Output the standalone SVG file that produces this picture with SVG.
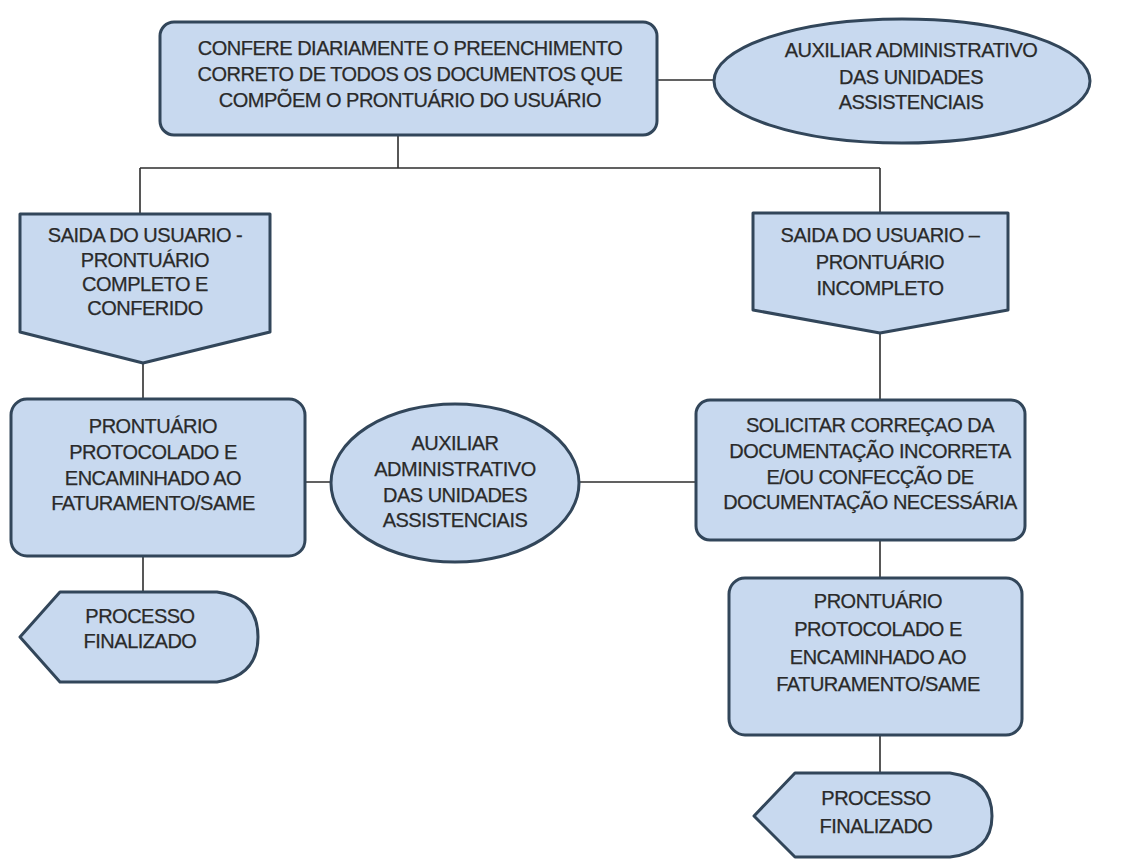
<svg xmlns="http://www.w3.org/2000/svg" width="1130" height="859" viewBox="0 0 1130 859">
  <style>
    .shape { fill: #c8d9ef; stroke: #32465a; stroke-width: 3; stroke-linejoin: round; }
    .wire { fill: none; stroke: #2e2e2e; stroke-width: 1.6; }
    text { font-family: "Liberation Sans", Arial, sans-serif; font-size: 20px; fill: #2a2a2a; stroke: #2a2a2a; stroke-width: 0.25; text-anchor: middle; letter-spacing: -0.5px; }
  </style>
  <rect width="1130" height="859" fill="#ffffff"/>

  <!-- connectors -->
  <g id="connectors">
    <path class="wire" d="M657 80 H715"/>
    <path class="wire" d="M398 135 V168 M140 168 H880 M140 168 V214 M880 168 V213"/>
    <path class="wire" d="M143 363 V398"/>
    <path class="wire" d="M880 333 V400"/>
    <path class="wire" d="M305 482 H331 M579 482 H696"/>
    <path class="wire" d="M143 556 V592"/>
    <path class="wire" d="M880 540 V578"/>
    <path class="wire" d="M880 735 V773"/>
  </g>

  <!-- daily check of the patient record -->
  <g id="confere">
    <rect class="shape" x="160" y="22" width="497" height="113" rx="14"/>
    <text x="410" y="55">CONFERE DIARIAMENTE O PREENCHIMENTO</text>
    <text x="410" y="81">CORRETO DE TODOS OS DOCUMENTOS QUE</text>
    <text x="410" y="107">COMPÕEM O PRONTUÁRIO DO USUÁRIO</text>
  </g>

  <!-- responsible role (top) -->
  <g id="auxiliar-topo">
    <ellipse class="shape" cx="902" cy="81" rx="188" ry="62"/>
    <text x="911" y="57">AUXILIAR ADMINISTRATIVO</text>
    <text x="911" y="84">DAS UNIDADES</text>
    <text x="911" y="109">ASSISTENCIAIS</text>
  </g>

  <!-- exit: complete record -->
  <g id="saida-completo">
    <path class="shape" d="M20 214 H270 V332 L143 363 L20 332 Z"/>
    <text x="145" y="242">SAIDA DO USUARIO -</text>
    <text x="145" y="267">PRONTUÁRIO</text>
    <text x="145" y="291">COMPLETO E</text>
    <text x="145" y="315">CONFERIDO</text>
  </g>

  <!-- exit: incomplete record -->
  <g id="saida-incompleto">
    <path class="shape" d="M753 213 H1008 V310 L880 333 L753 310 Z"/>
    <text x="880" y="242">SAIDA DO USUARIO –</text>
    <text x="880" y="269">PRONTUÁRIO</text>
    <text x="880" y="295">INCOMPLETO</text>
  </g>

  <!-- record filed and sent (left) -->
  <g id="protocolado-esq">
    <rect class="shape" x="11" y="399" width="294" height="157" rx="16"/>
    <text x="153" y="433">PRONTUÁRIO</text>
    <text x="153" y="459">PROTOCOLADO E</text>
    <text x="153" y="485">ENCAMINHADO AO</text>
    <text x="153" y="510">FATURAMENTO/SAME</text>
  </g>

  <!-- responsible role (middle) -->
  <g id="auxiliar-meio">
    <ellipse class="shape" cx="455" cy="483" rx="124" ry="79"/>
    <text x="455" y="450">AUXILIAR</text>
    <text x="455" y="476">ADMINISTRATIVO</text>
    <text x="455" y="502">DAS UNIDADES</text>
    <text x="455" y="527">ASSISTENCIAIS</text>
  </g>

  <!-- request correction -->
  <g id="solicitar">
    <rect class="shape" x="696" y="400" width="329" height="140" rx="14"/>
    <text x="870" y="432">SOLICITAR CORREÇAO DA</text>
    <text x="870" y="458">DOCUMENTAÇÃO INCORRETA</text>
    <text x="870" y="484">E/OU CONFECÇÃO DE</text>
    <text x="870" y="509">DOCUMENTAÇÃO NECESSÁRIA</text>
  </g>

  <!-- record filed and sent (right) -->
  <g id="protocolado-dir">
    <rect class="shape" x="729" y="578" width="293" height="157" rx="16"/>
    <text x="878" y="608">PRONTUÁRIO</text>
    <text x="878" y="636">PROTOCOLADO E</text>
    <text x="878" y="664">ENCAMINHADO AO</text>
    <text x="878" y="691">FATURAMENTO/SAME</text>
  </g>

  <!-- end (left) -->
  <g id="fim-esq">
    <path class="shape" d="M60 592 H217 Q258 598 258 637 Q258 676 217 682 H60 L20 637 Z"/>
    <text x="140" y="623">PROCESSO</text>
    <text x="140" y="648">FINALIZADO</text>
  </g>

  <!-- end (right) -->
  <g id="fim-dir">
    <path class="shape" d="M795 773 H950 Q992 779 992 816 Q992 852 950 857 H795 L754 816 Z"/>
    <text x="876" y="805">PROCESSO</text>
    <text x="876" y="833">FINALIZADO</text>
  </g>
</svg>
